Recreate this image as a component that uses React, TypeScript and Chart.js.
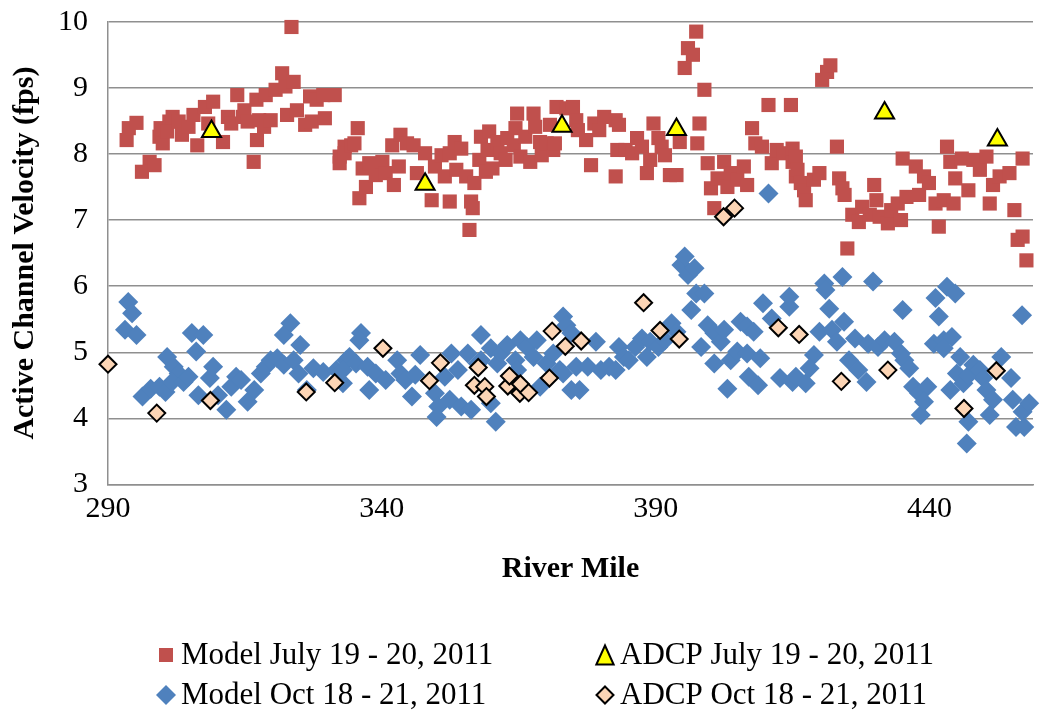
import React, { useEffect, useRef } from 'react';
import { Chart, registerables } from 'chart.js';

Chart.register(...registerables);

const FONT = '"Liberation Serif", "Times New Roman", serif';
const RED = '#C0504D';
const BLUE = '#4F81BD';
const YELLOW = '#FFFF00';
const PEACH = '#FCD5B5';
const GRID = '#8f8f8f';

// Axis settings
const X_MIN = 290;
const X_MAX = 458.9;
const xTickValues = [290, 340, 390, 440];
const Y_MIN = 3;
const Y_MAX = 10;
const Y_STEP = 1;

// Model July 19 - 20, 2011: river mile / velocity (fps)
const modelJulyMile = [
  323.5, 293.4, 293.8, 295.2, 297.6, 296.2, 298.5, 299.4, 300.0, 299.6, 301.2, 301.8, 300.8, 302.9, 303.5, 304.7,
  305.6, 306.3, 307.7, 309.2, 308.3, 311.0, 311.9, 312.5, 313.6, 314.6, 314.9, 315.5, 317.1, 316.6, 317.2, 317.6,
  318.5, 319.7, 318.8, 320.6, 321.8, 322.4, 323.9, 322.7, 324.5, 326.0, 326.9, 328.1, 327.2, 329.6, 329.3, 331.4,
  332.3, 333.2, 332.3, 333.2, 334.4, 335.6, 335.0, 335.9, 337.1, 336.5, 337.7, 338.9, 340.1, 340.7, 342.2, 343.1,
  341.9, 343.4, 344.6, 345.8, 346.4, 347.9, 349.1, 349.7, 350.9, 351.5, 352.4, 352.4, 353.3, 353.6, 354.5, 355.4,
  356.0, 356.3, 356.6, 356.9, 357.8, 358.1, 359.0, 359.3, 359.6, 360.2, 361.1, 361.7, 362.6, 362.9, 364.1, 364.4,
  364.7, 365.3, 366.2, 367.1, 367.7, 368.0, 368.9, 369.2, 370.1, 370.7, 371.3, 371.9, 373.7, 371.6, 374.9, 375.5,
  375.8, 377.3, 378.2, 378.8, 379.7, 380.6, 382.7, 383.3, 382.7, 383.0, 384.5, 385.7, 386.6, 387.5, 388.4, 389.0,
  389.6, 390.5, 391.1, 391.7, 392.6, 393.8, 394.4, 395.3, 395.9, 396.8, 397.4, 397.6, 398.0, 398.9, 399.5, 400.1,
  400.7, 401.3, 402.5, 403.1, 403.7, 404.9, 406.1, 406.7, 407.6, 408.2, 409.4, 410.6, 411.2, 412.1, 413.3, 414.7,
  415.0, 415.6, 415.0, 415.6, 415.9, 416.5, 417.1, 417.4, 418.9, 419.9, 420.4, 421.3, 421.9, 423.1, 423.5, 424.1,
  424.5, 425.0, 425.9, 427.1, 427.7, 429.1, 429.9, 430.3, 430.9, 432.4, 433.0, 434.2, 434.8, 435.1, 435.8, 437.5,
  438.1, 439.0, 439.9, 441.1, 441.7, 442.6, 443.2, 443.8, 444.4, 444.7, 445.9, 447.1, 448.0, 449.2, 450.4, 451.0,
  451.6, 452.8, 454.6, 455.5, 457.0, 456.1, 457.0, 457.7,
];
const modelJulyVel = [
  9.92, 8.21, 8.39, 8.47, 7.88, 7.73, 7.83, 8.26, 8.16, 8.39, 8.49, 8.56, 8.34, 8.49, 8.29, 8.41,
  8.59, 8.13, 8.71, 8.79, 8.46, 8.18, 8.56, 8.46, 8.89, 8.56, 8.66, 8.49, 8.82, 7.88, 8.21, 8.51,
  8.41, 8.51, 8.89, 8.97, 9.22, 9.02, 9.09, 8.59, 8.66, 8.44, 8.87, 8.82, 8.49, 8.54, 8.89, 8.89,
  7.96, 8.11, 7.86, 8.01, 8.13, 8.39, 8.16, 7.33, 7.50, 7.78, 7.86, 7.68, 7.88, 7.71, 7.53, 7.81,
  8.13, 8.29, 8.16, 8.13, 7.71, 8.01, 7.30, 7.81, 7.98, 7.66, 7.28, 8.01, 8.18, 7.76, 8.08, 7.66,
  6.85, 7.28, 7.18, 7.56, 7.91, 8.26, 7.73, 8.06, 8.34, 7.78, 8.18, 8.01, 7.91, 8.24, 8.13, 8.39,
  8.61, 7.96, 8.26, 7.88, 8.61, 8.41, 8.18, 7.98, 8.16, 8.44, 8.06, 8.71, 8.69, 8.16, 8.71, 8.51,
  8.36, 8.21, 7.83, 8.46, 8.36, 8.56, 8.51, 8.44, 7.66, 8.06, 8.06, 8.01, 8.24, 8.11, 7.71, 7.91,
  8.46, 8.24, 8.11, 7.98, 7.68, 7.68, 8.18, 9.30, 9.60, 9.50, 9.85, 8.16, 8.46, 8.97, 7.86, 7.48,
  7.18, 7.63, 7.88, 7.50, 7.71, 7.61, 7.81, 7.53, 8.39, 8.16, 8.11, 8.74, 7.86, 8.06, 8.01, 8.74,
  7.88, 7.66, 8.08, 7.96, 7.76, 7.56, 7.45, 7.30, 7.61, 7.71, 9.12, 9.24, 9.34, 8.11, 7.63, 7.48,
  7.38, 6.57, 7.08, 6.97, 7.20, 7.08, 7.53, 7.30, 7.05, 6.95, 7.15, 7.25, 7.00, 7.93, 7.35, 7.81,
  7.38, 7.66, 7.56, 7.25, 6.90, 7.30, 8.11, 7.88, 7.25, 7.63, 7.93, 7.45, 7.91, 7.76, 7.96, 7.25,
  7.53, 7.66, 7.71, 7.15, 7.93, 6.70, 6.75, 6.39,
];

// ADCP July 19 - 20, 2011
const adcpJulyMile = [308.9, 347.9, 372.9, 393.8, 431.8, 452.4];
const adcpJulyVel = [8.34, 7.54, 8.42, 8.37, 8.62, 8.21];

// Model Oct 18 - 21, 2011
const modelOctMile = [
  293.7, 294.4, 293.1, 295.2, 296.3, 297.8, 299.4, 300.5, 300.8, 302.0, 302.9, 301.7, 303.8, 304.7, 305.3, 307.4,
  306.1, 306.5, 308.6, 309.2, 310.1, 311.6, 312.5, 313.4, 314.3, 315.5, 316.7, 317.9, 318.8, 319.7, 320.9, 322.1,
  323.3, 322.1, 325.1, 323.9, 324.8, 326.3, 327.5, 329.3, 331.7, 332.9, 333.5, 336.2, 335.9, 334.1, 332.9, 335.3,
  337.4, 337.7, 338.9, 340.7, 342.8, 343.4, 344.3, 345.5, 347.0, 346.1, 349.7, 350.3, 350.0, 351.5, 352.7, 352.4,
  353.9, 354.5, 355.7, 356.3, 358.1, 358.1, 359.9, 359.9, 360.8, 361.1, 361.7, 362.9, 364.4, 365.3, 366.5, 367.7,
  368.3, 368.9, 370.1, 371.3, 373.1, 373.7, 372.5, 374.6, 357.5, 364.7, 374.6, 373.1, 375.5, 376.1, 377.6, 379.1,
  380.0, 381.5, 382.7, 383.3, 384.2, 385.1, 386.3, 387.5, 388.4, 389.0, 390.5, 391.7, 392.9, 393.8, 394.7, 395.9,
  397.1, 397.4, 398.9, 396.5, 398.3, 399.5, 400.7, 401.9, 402.5, 400.7, 403.1, 403.7, 404.9, 405.5, 406.7, 407.9,
  406.7, 409.1, 407.0, 408.7, 409.6, 411.2, 412.7, 414.4, 414.4, 415.0, 410.6, 395.3, 420.8, 421.0, 424.1, 429.7,
  421.7, 419.9, 422.2, 424.4, 423.1, 418.9, 418.1, 415.6, 417.4, 425.3, 426.4, 427.0, 428.5, 428.8, 430.6, 431.8,
  433.6, 434.8, 435.4, 436.3, 435.1, 437.0, 438.1, 439.6, 438.4, 439.0, 441.1, 441.7, 443.2, 444.7, 440.8, 442.6,
  444.1, 442.6, 445.6, 445.0, 443.8, 446.2, 447.1, 448.0, 449.2, 449.8, 450.4, 451.6, 451.0, 447.1, 446.8, 453.1,
  454.9, 455.2, 455.8, 457.0, 457.3, 458.2, 456.9,
];
const modelOctVel = [
  5.76, 5.59, 5.34, 5.26, 4.33, 4.45, 4.48, 4.40, 4.93, 4.78, 4.68, 4.55, 4.55, 4.63, 5.29, 5.26,
  5.01, 4.35, 4.61, 4.78, 4.35, 4.13, 4.48, 4.63, 4.58, 4.25, 4.43, 4.68, 4.78, 4.88, 4.91, 4.81,
  5.44, 5.26, 5.11, 4.88, 4.68, 4.43, 4.76, 4.70, 4.73, 4.53, 4.88, 5.29, 5.18, 4.93, 4.73, 4.83,
  4.78, 4.43, 4.68, 4.58, 4.88, 4.68, 4.58, 4.33, 4.96, 4.66, 4.38, 4.18, 4.02, 4.63, 4.98, 4.28,
  4.73, 4.18, 4.98, 4.13, 5.26, 4.88, 5.06, 4.23, 3.95, 4.83, 4.98, 5.11, 4.88, 5.18, 5.08, 4.93,
  5.18, 4.48, 4.83, 4.98, 5.54, 5.41, 4.73, 4.43, 4.83, 4.73, 5.29, 4.68, 4.78, 4.43, 4.78, 5.16,
  4.73, 4.78, 4.73, 5.08, 4.93, 4.88, 5.08, 5.21, 4.93, 5.16, 5.08, 5.18, 5.44, 5.31, 6.32, 6.17,
  6.27, 5.89, 5.89, 5.64, 5.08, 5.41, 5.29, 5.16, 5.34, 4.83, 4.45, 4.88, 5.01, 5.46, 5.39, 5.31,
  4.98, 4.91, 4.63, 4.50, 5.74, 5.51, 4.61, 5.69, 5.84, 4.55, 7.40, 6.45, 6.04, 5.94, 6.14, 6.07,
  5.66, 5.31, 5.34, 5.46, 5.16, 4.96, 4.76, 4.63, 4.53, 4.88, 5.21, 4.73, 4.55, 5.13, 5.08, 5.18,
  5.16, 4.98, 4.88, 4.76, 5.64, 4.48, 4.38, 4.48, 4.05, 4.25, 5.82, 5.54, 5.99, 5.89, 5.13, 5.18,
  5.23, 5.06, 4.93, 4.68, 4.43, 4.53, 4.65, 4.81, 4.73, 4.61, 4.43, 4.28, 4.05, 3.95, 3.62, 4.93,
  4.61, 4.28, 3.87, 4.10, 3.87, 4.23, 5.56,
];

// ADCP Oct 18 - 21, 2011
const adcpOctMile = [
  290.0, 298.9, 308.7, 326.2, 331.4, 340.2, 348.7, 350.7, 356.9, 357.6, 358.8, 359.1, 363.0, 363.3, 365.2, 365.3,
  366.8, 370.6, 371.1, 373.5, 376.4, 387.8, 390.8, 394.3, 402.4, 404.4, 412.4, 416.2, 423.9, 432.4, 446.3, 452.2,
];
const adcpOctVel = [
  4.82, 4.08, 4.27, 4.40, 4.54, 5.06, 4.57, 4.84, 4.50, 4.77, 4.48, 4.33, 4.49, 4.64, 4.38, 4.52,
  4.39, 4.61, 5.32, 5.09, 5.17, 5.75, 5.33, 5.20, 7.05, 7.18, 5.37, 5.27, 4.56, 4.73, 4.15, 4.72,
];

const seriesLabels = [
  'Model July 19 - 20, 2011',
  'ADCP July 19 - 20, 2011',
  'Model Oct 18 - 21, 2011',
  'ADCP Oct 18 - 21, 2011',
];

const toPoints = (xs: number[], ys: number[]) => xs.map((x, i) => ({ x, y: ys[i] }));

type Shape = 'rect' | 'triangle' | 'diamond';
interface LegendEntry {
  text: string;
  shape: Shape;
  fill: string;
  stroke: string | null;
  size: number;
  col: number;
  row: number;
}

const legendEntries: LegendEntry[] = [
  { text: seriesLabels[0], shape: 'rect', fill: RED, stroke: null, size: 7, col: 0, row: 0 },
  { text: seriesLabels[1], shape: 'triangle', fill: YELLOW, stroke: '#000', size: 10, col: 1, row: 0 },
  { text: seriesLabels[2], shape: 'diamond', fill: BLUE, stroke: null, size: 10, col: 0, row: 1 },
  { text: seriesLabels[3], shape: 'diamond', fill: PEACH, stroke: '#000', size: 8.5, col: 1, row: 1 },
];

const LEGEND_COL_X = [166, 605];
const LEGEND_ROW_Y = [655, 695];

const legendPlugin = {
  id: 'gridLegend',
  afterDraw(chart: Chart) {
    const ctx = chart.ctx;
    ctx.save();
    ctx.font = `31px ${FONT}`;
    ctx.textBaseline = 'middle';
    ctx.textAlign = 'left';
    legendEntries.forEach((e) => {
      const cx = LEGEND_COL_X[e.col];
      const cy = LEGEND_ROW_Y[e.row];
      ctx.beginPath();
      if (e.shape === 'rect') {
        ctx.rect(cx - e.size, cy - e.size, e.size * 2, e.size * 2);
      } else if (e.shape === 'triangle') {
        const h = e.size * 1.5;
        const w = e.size * Math.sqrt(3);
        ctx.moveTo(cx, cy - h / 2 - 2);
        ctx.lineTo(cx + w / 2, cy + h / 2 + 2);
        ctx.lineTo(cx - w / 2, cy + h / 2 + 2);
        ctx.closePath();
      } else {
        ctx.moveTo(cx, cy - e.size);
        ctx.lineTo(cx + e.size, cy);
        ctx.lineTo(cx, cy + e.size);
        ctx.lineTo(cx - e.size, cy);
        ctx.closePath();
      }
      ctx.fillStyle = e.fill;
      ctx.fill();
      if (e.stroke) {
        ctx.lineWidth = 2;
        ctx.strokeStyle = e.stroke;
        ctx.stroke();
      }
      ctx.fillStyle = '#000';
      ctx.fillText(e.text, cx + 15, cy + 1);
    });
    ctx.restore();
  },
};

export default function App() {
  const canvasRef = useRef<HTMLCanvasElement | null>(null);

  useEffect(() => {
    if (!canvasRef.current) return;
    const chart = new Chart(canvasRef.current, {
      type: 'scatter',
      data: {
        datasets: [
          {
            label: seriesLabels[3],
            data: toPoints(adcpOctMile, adcpOctVel),
            pointStyle: 'rectRot',
            pointRadius: 8.5,
            backgroundColor: PEACH,
            borderColor: '#000',
            borderWidth: 2,
            clip: false,
          },
          {
            label: seriesLabels[1],
            data: toPoints(adcpJulyMile, adcpJulyVel),
            pointStyle: 'triangle',
            pointRadius: 11,
            backgroundColor: YELLOW,
            borderColor: '#000',
            borderWidth: 2,
            clip: false,
          },
          {
            label: seriesLabels[2],
            data: toPoints(modelOctMile, modelOctVel),
            pointStyle: 'rectRot',
            pointRadius: 10,
            backgroundColor: BLUE,
            borderWidth: 0,
            clip: false,
          },
          {
            label: seriesLabels[0],
            data: toPoints(modelJulyMile, modelJulyVel),
            pointStyle: 'rect',
            pointRadius: 10,
            backgroundColor: RED,
            borderWidth: 0,
            clip: false,
          },
        ],
      },
      options: {
        animation: false,
        responsive: false,
        events: [],
        layout: { padding: { top: 21.7, left: 0, right: 0, bottom: 0 } },
        plugins: {
          legend: { display: false },
          tooltip: { enabled: false },
        },
        scales: {
          x: {
            type: 'linear',
            min: X_MIN,
            max: X_MAX,
            afterBuildTicks: (s: any) => {
              s.ticks = xTickValues.map((value) => ({ value }));
            },
            afterFit: (s: any) => {
              s.height = 713 - 484.5;
              s.paddingLeft = 0;
              s.paddingRight = 0;
            },
            ticks: {
              padding: 7,
              color: '#000',
              font: { family: FONT, size: 30 },
            },
            grid: { display: false, drawTicks: false },
            border: { display: true, color: GRID, width: 1.5 },
            title: {
              display: true,
              text: 'River Mile',
              color: '#000',
              font: { family: FONT, size: 30, weight: 'bold' },
              padding: { top: 0, bottom: 126 },
            },
          },
          y: {
            type: 'linear',
            min: Y_MIN,
            max: Y_MAX,
            afterFit: (s: any) => {
              s.width = 108;
              s.paddingTop = 0;
              s.paddingBottom = 0;
            },
            ticks: {
              stepSize: Y_STEP,
              padding: 20,
              color: '#000',
              font: { family: FONT, size: 30 },
            },
            grid: { display: true, color: GRID, lineWidth: 1.5, drawTicks: false },
            border: { display: true, color: GRID, width: 1.5 },
            title: {
              display: true,
              text: 'Active Channel Velocity (fps)',
              color: '#000',
              font: { family: FONT, size: 30, weight: 'bold' },
              padding: { top: 7, bottom: 0 },
            },
          },
        },
      },
      plugins: [legendPlugin],
    });
    return () => chart.destroy();
  }, []);

  return (
    <div style={{ position: 'absolute', left: 0, top: 0, width: 1046, height: 713, overflow: 'hidden', background: '#fff' }}>
      <canvas ref={canvasRef} width={1046} height={713} style={{ display: 'block' }} />
    </div>
  );
}
